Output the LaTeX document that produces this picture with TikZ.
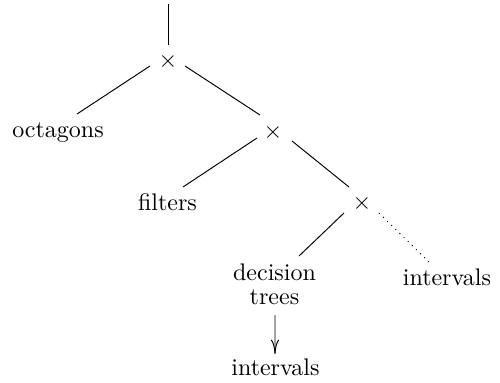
\documentclass[tikz,border=0pt]{standalone}
\usetikzlibrary{arrows.meta}
\begin{document}
\begin{tikzpicture}[x=0.41667pt,y=-0.41667pt,
  op/.style={inner sep=3.33pt},
  leaf/.style={anchor=base,inner sep=3.33pt},
  edge/.style={draw,line width=0.4pt},
  arr/.style={-{To[length=6pt,width=3.4pt]}}]
\useasboundingbox (0,0) rectangle (500,383);
\coordinate (top) at (168,4);
\node[op] (x1) at (168,61) {$\times$};
\node[leaf] (oct) at (58,137) {octagons};
\node[op] (x2) at (273,132) {$\times$};
\node[leaf] (fil) at (167.5,210) {filters};
\node[op] (x3) at (362,203) {$\times$};
\node[align=center,inner sep=3.33pt] (dt) at (274.5,284.7) {decision\\[-2pt]trees};
\node[leaf] (ivr) at (447,285.5) {intervals};
\node[leaf] (ivb) at (275.5,375) {intervals};
\draw[edge] (top) -- (x1);
\draw[edge] ([shift={(-18,5)}]x1.center) -- ([shift={(19,-23)}]oct.base);
\draw[edge] ([shift={(17,5)}]x1.center) -- ([shift={(-13,-17)}]x2.center);
\draw[edge] ([shift={(-16,6)}]x2.center) -- ([shift={(15.5,-23)}]fil.base);
\draw[edge] ([shift={(19,9)}]x2.center) -- ([shift={(-13,-16)}]x3.center);
\draw[edge] ([shift={(-18,10)}]x3.center) -- ([shift={(24.5,-28.7)}]dt.center);
\draw[edge,dotted] ([shift={(17,10)}]x3.center) -- ([shift={(-18,-23.5)}]ivr.base);
\draw[edge,arr] ([shift={(0.5,30.3)}]dt.center) -- ([shift={(-0.5,-21)}]ivb.base);
\end{tikzpicture}
\end{document}
